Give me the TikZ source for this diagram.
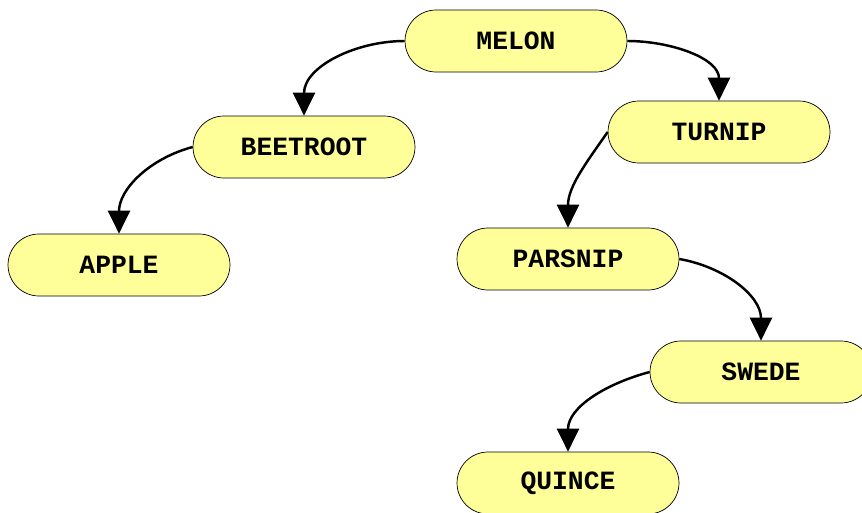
\documentclass[tikz,border=0pt]{standalone}
\usepackage{fontspec}
\setmonofont{Liberation Mono}
\usetikzlibrary{shapes.misc, arrows.meta}
\definecolor{nodeyellow}{RGB}{255,255,153}
\tikzset{
  treenode/.style={rounded rectangle,draw=black,thin,fill=nodeyellow,minimum width=4.44cm,minimum height=1.24cm,inner sep=0pt,font=\fontsize{15}{18}\selectfont\ttfamily\bfseries},
  treearr/.style={-{Triangle[length=0.46cm,width=0.44cm]},line width=1.4pt,color=black}
}
\begin{document}
\begin{tikzpicture}[x=0.02cm,y=-0.02cm]
  \useasboundingbox (0,0) rectangle (862,513);
  \node[treenode] (melon)    at (516,41)  {MELON};
  \node[treenode] (beetroot) at (304,147) {BEETROOT};
  \node[treenode] (turnip)   at (719,132) {TURNIP};
  \node[treenode] (apple)    at (119,265) {APPLE};
  \node[treenode] (parsnip)  at (568,259) {PARSNIP};
  \node[treenode] (swede)    at (761,372) {SWEDE};
  \node[treenode] (quince)   at (568,483) {QUINCE};

  \draw[treearr] (melon.west) to[out=180,in=90] (beetroot.north);
  \draw[treearr] (melon.east) to[out=0,in=90] (turnip.north);
  \draw[treearr] (beetroot.west) to[out=195,in=90] (apple.north);
  \draw[treearr] (turnip.west) to[out=-125,in=90] (parsnip.north);
  \draw[treearr] (parsnip.east) to[out=-10,in=90] (swede.north);
  \draw[treearr] (swede.west) to[out=195,in=90] (quince.north);
\end{tikzpicture}
\end{document}
